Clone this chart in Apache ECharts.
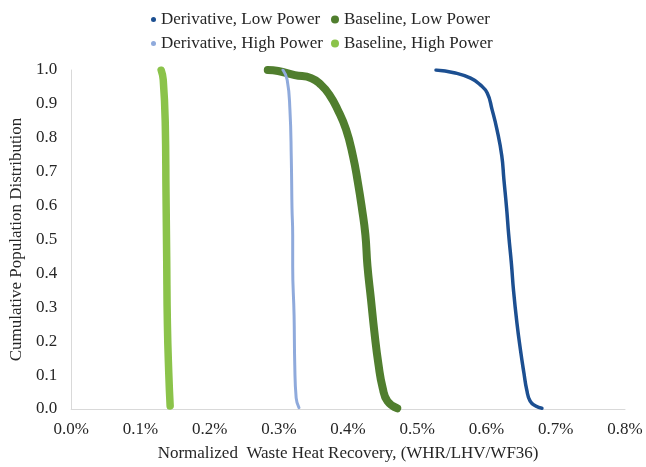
<!DOCTYPE html>
<html>
<head>
<meta charset="utf-8">
<script src="https://cdn.jsdelivr.net/npm/echarts@6/dist/echarts.min.js"></script>
<style>
  html, body { margin: 0; padding: 0; background: #fff; }
  #chart { width: 646px; height: 467px; }
</style>
</head>
<body>
<div id="chart"></div>
<script>
// values, x in %, y = cumulative share
var seriesNames = ['Derivative, Low Power', 'Baseline, Low Power', 'Derivative, High Power', 'Baseline, High Power'];

var derivLow = [
  [0.527, 1.0], [0.553, 0.992], [0.577, 0.976], [0.591, 0.956], [0.601, 0.932],
  [0.608, 0.883], [0.615, 0.825], [0.622, 0.747], [0.625, 0.679], [0.629, 0.592],
  [0.632, 0.514], [0.636, 0.427], [0.639, 0.349], [0.644, 0.252], [0.649, 0.174],
  [0.654, 0.106], [0.658, 0.057], [0.663, 0.023], [0.671, 0.009], [0.680, 0.002]
];
var baseLow = [
  [0.284, 1.0], [0.299, 0.997], [0.323, 0.985], [0.347, 0.976], [0.361, 0.956],
  [0.373, 0.927], [0.385, 0.883], [0.397, 0.825], [0.407, 0.747], [0.414, 0.670],
  [0.420, 0.592], [0.425, 0.514], [0.428, 0.422], [0.433, 0.325], [0.438, 0.227],
  [0.444, 0.130], [0.450, 0.062], [0.457, 0.023], [0.471, 0.002]
];
var derivHigh = [
  [0.306, 1.0], [0.312, 0.971], [0.316, 0.883], [0.318, 0.738], [0.319, 0.592],
  [0.320, 0.514], [0.320, 0.422], [0.322, 0.276], [0.323, 0.130], [0.325, 0.033],
  [0.329, 0.004]
];
var baseHigh = [
  [0.130, 1.0], [0.133, 0.971], [0.136, 0.835], [0.137, 0.640], [0.138, 0.446],
  [0.139, 0.252], [0.141, 0.106], [0.143, 0.009]
];

var colors = ['#1c4f91', '#507e2e', '#8faadc', '#8bc34a'];
var widths = [3.5, 8, 3, 7.5];
var allData = [derivLow, baseLow, derivHigh, baseHigh];

var font = 'Liberation Serif';
var textColor = '#262626';

var chart = echarts.init(document.getElementById('chart'));

// one legend per entry so each dot can have its own size
function makeLegend(name, left, top, size) {
  return {
    data: [name],
    left: left,
    top: top,
    padding: 0,
    icon: 'circle',
    itemWidth: size,
    itemHeight: size,
    selectedMode: false,
    textStyle: { fontFamily: font, fontSize: 17, color: textColor }
  };
}

var option = {
  animation: false,
  backgroundColor: '#fff',
  legend: [
    makeLegend(seriesNames[0], 151, 11, 5),
    makeLegend(seriesNames[1], 331, 11, 8),
    makeLegend(seriesNames[2], 151, 35, 5),
    makeLegend(seriesNames[3], 331, 35, 8)
  ],
  grid: { left: 69, right: 21, top: 70, bottom: 54 },
  xAxis: {
    type: 'value',
    min: 0,
    max: 0.8,
    interval: 0.1,
    name: 'Normalized  Waste Heat Recovery, (WHR/LHV/WF36)',
    nameLocation: 'middle',
    nameGap: 36,
    nameTextStyle: { fontFamily: font, fontSize: 17, color: textColor },
    axisLine: { lineStyle: { color: '#d9d9d9', width: 1 } },
    axisTick: { show: false },
    splitLine: { show: false },
    axisLabel: {
      margin: 12,
      fontFamily: font,
      fontSize: 17,
      color: textColor,
      formatter: function (v) { return v.toFixed(1) + '%'; }
    }
  },
  yAxis: {
    type: 'value',
    min: 0,
    max: 1,
    interval: 0.1,
    name: 'Cumulative Population Distribution',
    nameLocation: 'middle',
    nameGap: 46,
    nameTextStyle: { fontFamily: font, fontSize: 17, color: textColor },
    axisLine: { show: true, lineStyle: { color: '#d9d9d9', width: 1 } },
    axisTick: { show: false },
    splitLine: { show: false },
    axisLabel: {
      margin: 14,
      fontFamily: font,
      fontSize: 17,
      color: textColor,
      formatter: function (v) { return v.toFixed(1); }
    }
  },
  series: seriesNames.map(function (name, i) {
    return {
      name: name,
      type: 'line',
      data: allData[i],
      color: colors[i],
      smooth: 0.5,
      showSymbol: false,
      symbol: 'circle',
      lineStyle: { width: widths[i], color: colors[i], cap: 'round', join: 'round' },
      z: i === 2 ? 3 : 2
    };
  })
};

chart.setOption(option);
</script>
</body>
</html>
